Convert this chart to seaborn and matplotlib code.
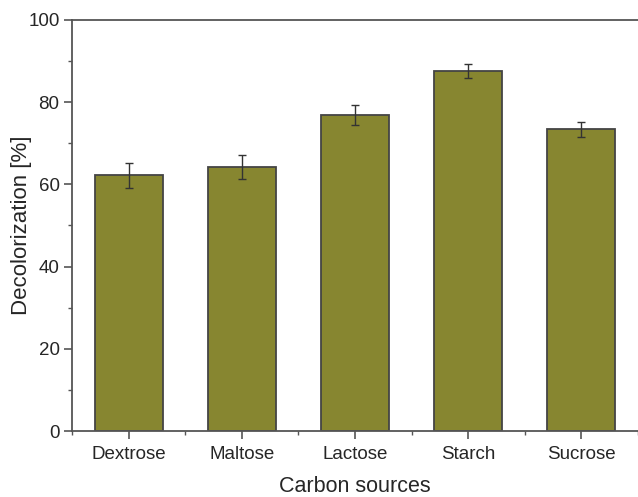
import matplotlib
matplotlib.use("Agg")
import matplotlib.pyplot as plt
import seaborn as sns
import pandas as pd
import numpy as np
from matplotlib.ticker import MultipleLocator, FixedLocator

categories = ["Dextrose", "Maltose", "Lactose", "Starch", "Sucrose"]
values = [62.2, 64.2, 76.9, 87.6, 73.4]
errors = [3.0, 3.0, 2.5, 1.8, 1.9]

df = pd.DataFrame({"source": categories, "value": values})

sns.set_style("white")
plt.rcParams["font.family"] = ["Liberation Sans", "DejaVu Sans"]

fig = plt.figure(figsize=(6.38, 4.97), dpi=100)
ax = fig.add_axes([72/638, 66/497, 1 - 72/638, (431-20)/497])

sns.barplot(data=df, x="source", y="value", color="#878630", width=0.6,
            edgecolor="#444444", linewidth=1.3, saturation=1, ax=ax, errorbar=None)
ax.errorbar(np.arange(len(categories)), values, yerr=errors, fmt="none",
            ecolor="#333333", elinewidth=1.0, capsize=3, capthick=1.0)

ax.set_xlim(-0.5, 4.5)
ax.set_ylim(0, 100)
ax.yaxis.set_major_locator(MultipleLocator(20))
ax.yaxis.set_minor_locator(MultipleLocator(10))
ax.xaxis.set_minor_locator(FixedLocator([-0.5, 0.5, 1.5, 2.5, 3.5, 4.5]))

for s in ["left", "bottom", "top"]:
    ax.spines[s].set_color("#555555")
    ax.spines[s].set_linewidth(1.3)
ax.spines["right"].set_visible(False)

ax.tick_params(axis="both", which="major", direction="out", length=6, width=1.2,
               color="#555555", labelsize=13.5, bottom=True, left=True, pad=3)
ax.tick_params(axis="x", which="major", pad=5)
ax.tick_params(axis="both", which="minor", direction="out", length=3, width=1.0,
               color="#555555", bottom=True, left=True)
ax.tick_params(axis="x", which="minor", labelbottom=False)

ax.set_xlabel("Carbon sources", fontsize=15.5, labelpad=9)
ax.set_ylabel("Decolorization [%]", fontsize=16, labelpad=-3)

fig.savefig("out.png", dpi=100)
